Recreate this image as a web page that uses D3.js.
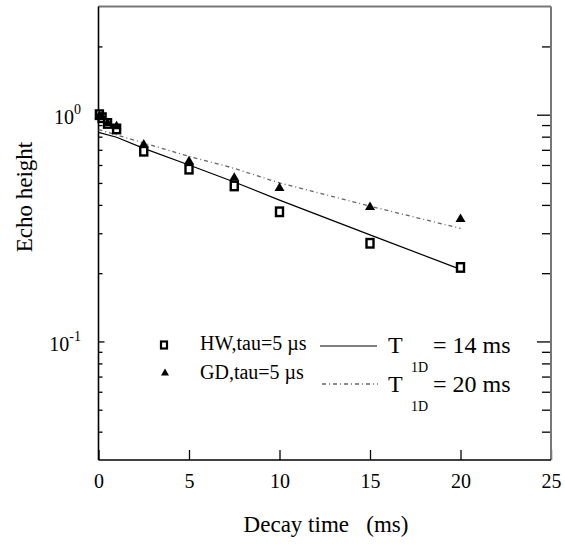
<!DOCTYPE html>
<html>
<head>
<meta charset="utf-8">
<script src="https://cdn.jsdelivr.net/npm/d3@7"></script>
</head>
<body style="margin:0">
<svg id="chart" width="565" height="544" style="display:block;font-family:'Times New Roman','Liberation Serif',Times"></svg>
<script>
/* Data */
const hwTime = [0.05, 0.2, 0.5, 1.0, 2.5, 5, 7.5, 10, 15, 20];
const hwEcho = [1.0, 0.97, 0.915, 0.865, 0.69, 0.575, 0.485, 0.373, 0.271, 0.212];
const gdTime = [0.05, 0.2, 0.5, 1.0, 2.5, 5, 7.5, 10, 15, 20];
const gdEcho = [1.0, 0.99, 0.93, 0.90, 0.748, 0.631, 0.534, 0.481, 0.397, 0.351];

// fitted curves, T1D = 14 ms (solid) and T1D = 20 ms (dotted)
const fit14Time = [0, 1, 2.5, 5, 7.5, 10, 15, 20];
const fit14Echo = [0.836, 0.795, 0.71, 0.60, 0.505, 0.42, 0.295, 0.208];
const fit20Time = [0, 2.5, 5, 7.5, 10, 15, 20];
const fit20Echo = [0.86, 0.75, 0.655, 0.58, 0.50, 0.395, 0.315];

const xTicks = [0, 5, 10, 15, 20, 25];
const yMajorTicks = [1, 0.1];
const yMajorExponents = ["0", "-1"];
const yMinorTicks = [2, 0.9, 0.8, 0.7, 0.6, 0.5, 0.4, 0.3, 0.2, 0.09, 0.08, 0.07, 0.06, 0.05, 0.04];

const seriesLabels = ["HW,tau=5 \u00b5s", "GD,tau=5 \u00b5s"];
const fitLabels = ["= 14 ms", "= 20 ms"];

// generic "serif" falls back to a sans face here, so name the fonts directly
const serif = "Times New Roman";

/* Layout */
const plot = { left: 98.5, right: 551, top: 6.5, bottom: 460 };

const x = d3.scaleLinear().domain([0, 25]).range([plot.left, plot.right]);
const y = d3.scaleLog().domain([0.03, 3]).range([plot.bottom, plot.top]);

const svg = d3.select("#chart");

function addText(parent, str, size) {
  const t = parent.append("text")
    .style("font-family", `"${serif}"`)
    .style("font-size", size + "px")
    .attr("fill", "#000");
  if (str) t.text(str);
  return t;
}

// Tick marks: bottom (pointing up), left and right (pointing inward)
function addTicks(axis, transform) {
  const g = svg.append("g").attr("transform", transform).call(axis);
  g.attr("font-family", null).attr("font-size", null);
  g.select(".domain").remove();
  g.selectAll("line").attr("stroke", "#000").attr("stroke-width", 1.3);
  return g;
}

const xAxis = addTicks(
  d3.axisBottom(x).tickValues(xTicks).tickSize(-10).tickPadding(14).tickFormat(d3.format("d")),
  `translate(0,${plot.bottom})`
);
xAxis.selectAll("text")
  .style("font-family", `"${serif}"`)
  .style("font-size", "20px")
  .attr("fill", "#000");

addTicks(d3.axisRight(y).tickValues(yMajorTicks).tickSize(6).tickFormat(""), `translate(${plot.left},0)`);
addTicks(d3.axisRight(y).tickValues(yMinorTicks).tickSize(4).tickFormat(""), `translate(${plot.left},0)`);
addTicks(d3.axisLeft(y).tickValues(yMajorTicks).tickSize(14).tickFormat(""), `translate(${plot.right},0)`);
addTicks(d3.axisLeft(y).tickValues(yMinorTicks).tickSize(9).tickFormat(""), `translate(${plot.right},0)`);

// Frame
svg.append("line")
  .attr("x1", plot.left).attr("x2", plot.right).attr("y1", plot.top).attr("y2", plot.top)
  .attr("stroke", "#777").attr("stroke-width", 2);
svg.append("line")
  .attr("x1", plot.right).attr("x2", plot.right).attr("y1", plot.top).attr("y2", plot.bottom)
  .attr("stroke", "#777").attr("stroke-width", 2);
svg.append("line")
  .attr("x1", plot.left).attr("x2", plot.left).attr("y1", plot.top).attr("y2", plot.bottom)
  .attr("stroke", "#000").attr("stroke-width", 1.6);
svg.append("line")
  .attr("x1", plot.left).attr("x2", plot.right).attr("y1", plot.bottom).attr("y2", plot.bottom)
  .attr("stroke", "#000").attr("stroke-width", 1.6);

// Y tick labels as 10^n
yMajorTicks.forEach((v, i) => {
  const t = addText(svg, null, 20)
    .attr("x", 81)
    .attr("y", y(v) + 9.5)
    .attr("text-anchor", "end");
  t.append("tspan").text("10");
  t.append("tspan").attr("dy", -10).style("font-size", "14px").text(yMajorExponents[i]);
});

// Axis titles
addText(svg, "Decay time\u00a0\u00a0 (ms)", 23)
  .attr("x", 326).attr("y", 532)
  .attr("text-anchor", "middle");

addText(svg, "Echo height", 23)
  .attr("transform", "translate(32,197) rotate(-90)")
  .attr("text-anchor", "middle");

// Fit curves
const fitLine = d3.line().x(d => x(d[0])).y(d => y(d[1]));

svg.append("path")
  .datum(d3.zip(fit20Time, fit20Echo))
  .attr("d", fitLine)
  .attr("fill", "none")
  .attr("stroke", "#666")
  .attr("stroke-width", 1.3)
  .attr("stroke-dasharray", "4,3,1,3");

svg.append("path")
  .datum(d3.zip(fit14Time, fit14Echo))
  .attr("d", fitLine)
  .attr("fill", "none")
  .attr("stroke", "#000")
  .attr("stroke-width", 1.2);

// Markers
const squareW = 7, squareH = 8.5;
const triangle = (cx, cy, w, h) =>
  `M${cx - w / 2},${cy + h / 2}L${cx + w / 2},${cy + h / 2}L${cx},${cy - h / 2}Z`;

svg.append("g").selectAll("rect")
  .data(d3.zip(hwTime, hwEcho))
  .join("rect")
  .attr("x", d => x(d[0]) - squareW / 2)
  .attr("y", d => y(d[1]) - squareH / 2)
  .attr("width", squareW)
  .attr("height", squareH)
  .attr("fill", "#fff")
  .attr("stroke", "#000")
  .attr("stroke-width", 2.4);

svg.append("g").selectAll("path")
  .data(d3.zip(gdTime, gdEcho))
  .join("path")
  .attr("d", d => triangle(x(d[0]), y(d[1]), 10, 8.5))
  .attr("fill", "#000");

// Legend
const legend = svg.append("g");
legend.append("rect")
  .attr("x", 161).attr("y", 341.5).attr("width", 6).attr("height", 7)
  .attr("fill", "#fff").attr("stroke", "#000").attr("stroke-width", 2.2);
legend.append("path").attr("d", triangle(165, 372, 8, 7)).attr("fill", "#000");

seriesLabels.forEach((label, i) => {
  addText(legend, label, 20).attr("x", 200).attr("y", 350 + i * 29);
});

legend.append("line")
  .attr("x1", 320).attr("x2", 377).attr("y1", 346).attr("y2", 346)
  .attr("stroke", "#000").attr("stroke-width", 1.2);
legend.append("line")
  .attr("x1", 322).attr("x2", 378).attr("y1", 384).attr("y2", 384)
  .attr("stroke", "#666").attr("stroke-width", 1.3).attr("stroke-dasharray", "4,3,1,3");

fitLabels.forEach((label, i) => {
  const base = 353 + i * 39;
  addText(legend, "T", 24).attr("x", 388).attr("y", base);
  addText(legend, "1D", 14).attr("x", 411).attr("y", base + 19);
  addText(legend, label, 24).attr("x", 433).attr("y", base);
});
</script>
</body>
</html>
